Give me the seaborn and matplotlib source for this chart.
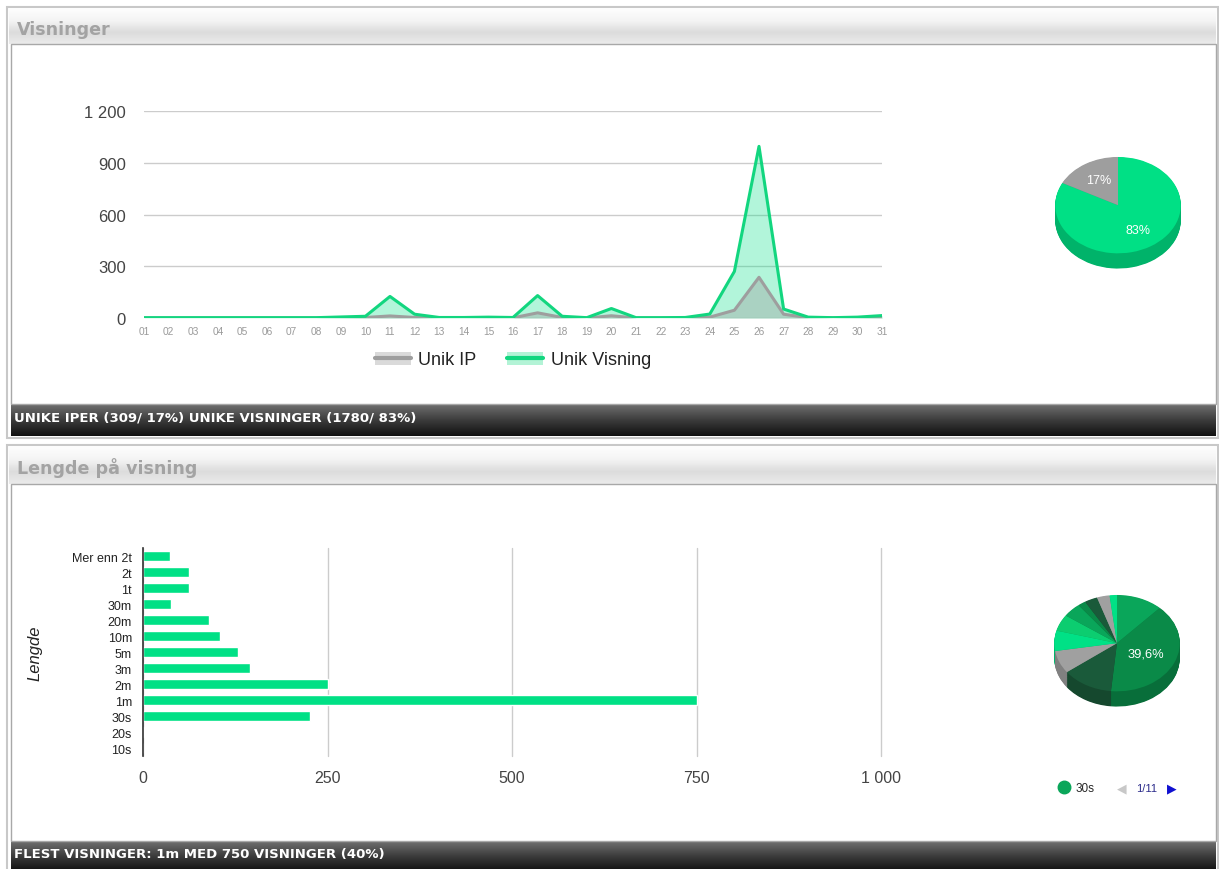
import numpy as np
import pandas as pd
import matplotlib
matplotlib.use('Agg')
import matplotlib.pyplot as plt
from matplotlib.colors import LinearSegmentedColormap, to_rgb
from matplotlib.patches import Rectangle, Patch
from matplotlib.lines import Line2D
import seaborn as sns

W, H = 1219, 870

# ---- data -------------------------------------------------------------------
days = [1, 2, 3, 4, 5, 6, 7, 8, 9, 10, 11, 12, 13, 14, 15, 16,
        17, 18, 19, 20, 21, 22, 23, 24, 25, 26, 27, 28, 29, 30, 31]
day_labels = ['01', '02', '03', '04', '05', '06', '07', '08', '09', '10', '11',
              '12', '13', '14', '15', '16', '17', '18', '19', '20', '21', '22',
              '23', '24', '25', '26', '27', '28', '29', '30', '31']
unik_ip = [0, 0, 0, 0, 0, 0, 0, 0, 1, 3, 12, 3, 0, 0, 1, 1,
           30, 3, 0, 13, 0, 0, 0, 5, 45, 236, 22, 2, 0, 1, 3]
unik_visning = [2, 2, 2, 2, 2, 2, 2, 2, 6, 10, 125, 22, 3, 3, 5, 3,
                130, 10, 2, 55, 2, 2, 3, 23, 270, 995, 52, 5, 2, 5, 14]
# pie: share of unique IPs within unique views (309 of 1780)
andel_labels = ['Unik Visning', 'Unik IP']
andel_values = [1471, 309]

lengde_labels = ['Mer enn 2t', '2t', '1t', '30m', '20m', '10m', '5m', '3m',
                 '2m', '1m', '30s', '20s', '10s']
lengde_values = [36, 62, 63, 38, 90, 105, 129, 145, 250, 750, 226, 2, 0]
pie_order = ['30s', '1m', '2m', '3m', '5m', '10m', '20m', '30m', '1t', '2t', 'Mer enn 2t']

# ---- style ------------------------------------------------------------------
GREEN = '#00e085'
GREEN_LINE = '#12d67f'
GRAY = '#9e9e9e'
PIE2_COLS = ['#0aa65a', '#0a8a48', '#1a5a3a', '#a0a0a0', '#00e186', '#0ccd70']

sns.set_theme(style='white')
plt.rcParams['font.family'] = ['Liberation Sans', 'DejaVu Sans']

fig = plt.figure(figsize=(W / 100, H / 100), dpi=100)


def rect(x0, y0, x1, y1):
    return [x0 / W, 1 - y1 / H, (x1 - x0) / W, (y1 - y0) / H]


def darker(c, f=0.8):
    r, g, b = to_rgb(c)
    return (r * f, g * f, b * f)


# background "page" with two panels
bg = fig.add_axes([0, 0, 1, 1])
bg.set_zorder(-5)
bg.axis('off')


def gradient(x0, y0, x1, y1, colors):
    cm = LinearSegmentedColormap.from_list('g', colors)
    bg.imshow(np.linspace(0, 1, 64).reshape(-1, 1), cmap=cm, extent=(x0, x1, y1, y0),
              aspect='auto', interpolation='bilinear', zorder=2)


def panel(y0, y1, head_y, foot_y, title, footer, title_y, foot_ty):
    bg.add_patch(Rectangle((7, y0), 1211, y1 - y0, fc='white', ec='#c8c8c8', lw=1.5, zorder=1))
    gradient(9, y0 + 2, 1216, head_y, ['#fdfdfd', '#f4f4f4', '#dcdcdc', '#ebebeb'])
    bg.text(17, title_y, title, fontsize=12.6, fontweight='bold', color='#a3a3a3',
            family='DejaVu Sans', va='center', zorder=4)
    bg.add_patch(Rectangle((11, head_y), 1205, foot_y - head_y, fc='white', ec='#a8a8a8',
                           lw=1, zorder=3))
    gradient(11, foot_y, 1216, y1 - 2, ['#707070', '#3c3c3c', '#111111'])
    bg.text(14, foot_ty, footer, fontsize=9.5, fontweight='bold', color='white',
            family='DejaVu Sans', va='center', zorder=4)


panel(8, 439, 45, 405, 'Visninger', 'UNIKE IPER (309/ 17%) UNIKE VISNINGER (1780/ 83%)', 30, 418)
panel(446, 874, 485, 842, 'Lengde på visning', 'FLEST VISNINGER: 1m MED 750 VISNINGER (40%)', 468, 855)

# pie 2 legend / pager
bg.text(1122, 789, '◀', color='#c8c8c8', fontsize=9, ha='center', va='center',
        family='DejaVu Sans', zorder=4)
bg.text(1147, 789, '1/11', color='#2a2a8a', fontsize=8, ha='center', va='center', zorder=4)
bg.text(1172, 789, '▶', color='#1010d0', fontsize=9, ha='center', va='center',
        family='DejaVu Sans', zorder=4)
leg = bg.legend(handles=[Line2D([], [], marker='o', ls='', color=PIE2_COLS[0], ms=9)],
                labels=[pie_order[0]], loc='center left',
                bbox_to_anchor=(1052 / W, 1 - 789 / H), bbox_transform=fig.transFigure,
                frameon=False, fontsize=8.5, handletextpad=0.5, borderpad=0, handlelength=1)
leg.set_zorder(5)
bg.set_xlim(0, W)
bg.set_ylim(H, 0)

# ---- line chart ---------------------------------------------------------------
ax1 = fig.add_axes(rect(144, 112, 882, 319))
df_line = pd.DataFrame({'dag': days * 2,
                        'antall': unik_ip + unik_visning,
                        'serie': ['Unik IP'] * len(days) + ['Unik Visning'] * len(days)})
ax1.fill_between(days, unik_visning, color=GREEN, alpha=0.3, lw=0)
ax1.fill_between(days, unik_ip, color=GRAY, alpha=0.4, lw=0)
sns.lineplot(data=df_line, x='dag', y='antall', hue='serie',
             palette={'Unik IP': GRAY, 'Unik Visning': GREEN_LINE},
             linewidth=2.2, ax=ax1, legend=False)
ax1.set_xlim(1, 31)
ax1.set_ylim(0, 1200)
ax1.set_xticks(days)
ax1.set_xticklabels(day_labels)
yt = [0, 300, 600, 900, 1200]
ax1.set_yticks(yt)
ax1.set_yticklabels([f'{v:,}'.replace(',', ' ') for v in yt])
ax1.yaxis.grid(True, color='#cccccc', lw=1)
ax1.xaxis.grid(False)
for s in ax1.spines.values():
    s.set_visible(False)
ax1.set_xlabel('')
ax1.set_ylabel('')
ax1.tick_params(axis='y', length=0, pad=13, labelsize=12, labelcolor='#444444')
ax1.tick_params(axis='x', length=0, pad=6, labelsize=7.3, labelcolor='#9a9a9a')
handles = [(Patch(fc='#dadada', ec='none'), Line2D([], [], color=GRAY, lw=3)),
           (Patch(fc='#b3f3d6', ec='none'), Line2D([], [], color=GREEN_LINE, lw=3))]
ax1.legend(handles, ['Unik IP', 'Unik Visning'], loc='center',
           bbox_to_anchor=((513 - 144) / 738, 1 - (361 - 112) / 207), ncol=2, frameon=False,
           fontsize=13, handlelength=2.0, columnspacing=1.7, handletextpad=0.4,
           labelcolor='#222222')

# ---- 3d-ish pies --------------------------------------------------------------
def pie3d(ax, values, colors, depth, autopct, pctdist, fs):
    side = [darker(c) for c in colors]
    for k in np.linspace(depth, 0, 24, endpoint=False):
        ax.pie(values, colors=side, startangle=90, counterclock=False, center=(0, -k),
               radius=1, wedgeprops=dict(lw=0))
    ax.pie(values, colors=colors, startangle=90, counterclock=False, radius=1,
           autopct=autopct, pctdistance=pctdist,
           textprops=dict(color='white', fontsize=fs), wedgeprops=dict(lw=0))
    ax.set_aspect('auto')
    ax.set_xlim(-1.02, 1.02)
    ax.set_ylim(-1 - depth - 0.03, 1.02)
    ax.axis('off')


ax_p1 = fig.add_axes(rect(1054, 157, 1182, 271))
pie3d(ax_p1, andel_values, [GREEN, GRAY], 0.316,
      lambda p: f'{p:.0f}%', 0.6, 9)

ax_p2 = fig.add_axes(rect(1053, 595, 1181, 709))
pie_vals = [lengde_values[lengde_labels.index(c)] for c in pie_order]
pie_cols = [PIE2_COLS[i % len(PIE2_COLS)] for i in range(len(pie_order))]
pie3d(ax_p2, pie_vals, pie_cols, 0.316,
      lambda p: f'{p:.1f}%'.replace('.', ',') if p > 30 else '', 0.5, 9.3)

# ---- bar chart ----------------------------------------------------------------
ax2 = fig.add_axes(rect(143, 549, 881, 757))
df_bar = pd.DataFrame({'lengde': lengde_labels, 'antall': lengde_values})
sns.barplot(data=df_bar, x='antall', y='lengde', orient='h', color=GREEN,
            saturation=1, width=0.65, ax=ax2)
ax2.set_xlim(0, 1000)
xt = [0, 250, 500, 750, 1000]
ax2.set_xticks(xt)
ax2.set_xticklabels([f'{v:,}'.replace(',', ' ') for v in xt])
ax2.xaxis.grid(True, color='#cccccc', lw=1)
ax2.yaxis.grid(False)
ax2.set_axisbelow(True)
for gl in ax2.get_xgridlines():
    gl.set_clip_on(False)
for name, s in ax2.spines.items():
    s.set_visible(name == 'left')
ax2.spines['left'].set_color('#333333')
ax2.spines['left'].set_linewidth(1.2)
ax2.set_xlabel('')
ax2.set_ylabel('Lengde', fontstyle='italic', fontsize=12, color='#222222')
ax2.yaxis.set_label_coords((42 - 143) / 738, 0.5)
ax2.tick_params(axis='x', length=0, pad=10, labelsize=11.5, labelcolor='#444444')
ax2.tick_params(axis='y', length=0, pad=8, labelsize=9, labelcolor='#222222')

fig.savefig('out.png', dpi=100)
